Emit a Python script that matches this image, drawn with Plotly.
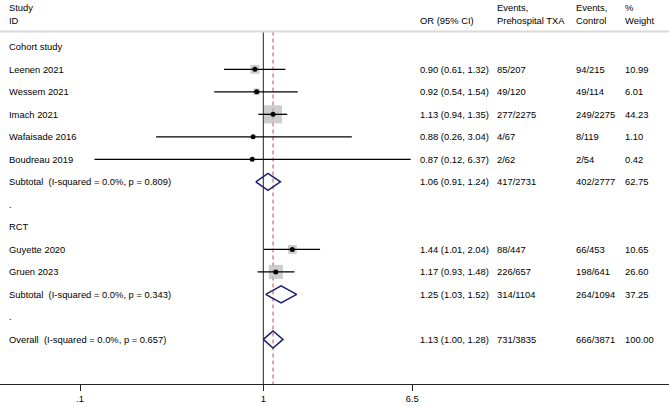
import math
import plotly.graph_objects as go

# ---------------- data ----------------
cohort_study = ["Leenen 2021", "Wessem 2021", "Imach 2021", "Wafaisade 2016", "Boudreau 2019"]
cohort_or = [0.90, 0.92, 1.13, 0.88, 0.87]
cohort_lo = [0.61, 0.54, 0.94, 0.26, 0.12]
cohort_hi = [1.32, 1.54, 1.35, 3.04, 6.37]
cohort_ev_txa = ["85/207", "49/120", "277/2275", "4/67", "2/62"]
cohort_ev_ctrl = ["94/215", "49/114", "249/2275", "8/119", "2/54"]
cohort_weight = [10.99, 6.01, 44.23, 1.10, 0.42]

rct_study = ["Guyette 2020", "Gruen 2023"]
rct_or = [1.44, 1.17]
rct_lo = [1.01, 0.93]
rct_hi = [2.04, 1.48]
rct_ev_txa = ["88/447", "226/657"]
rct_ev_ctrl = ["66/453", "198/641"]
rct_weight = [10.65, 26.60]

pooled_label = ["Subtotal  (I-squared = 0.0%, p = 0.809)",
                "Subtotal  (I-squared = 0.0%, p = 0.343)",
                "Overall  (I-squared = 0.0%, p = 0.657)"]
pooled_or = [1.06, 1.25, 1.13]
pooled_lo = [0.91, 1.03, 1.00]
pooled_hi = [1.24, 1.52, 1.28]
pooled_ev_txa = ["417/2731", "314/1104", "731/3835"]
pooled_ev_ctrl = ["402/2777", "264/1094", "666/3871"]
pooled_weight = ["62.75", "37.25", "100.00"]

group_titles = ["Cohort study", "RCT"]

tick_vals = [0.1, 1, 6.5]
tick_text = [".1", "1", "6.5"]

# ---------------- layout helpers ----------------
W, H = 669, 406
FONT = "Liberation Sans, Arial, sans-serif"
FS = 9.4
TXT = "#000000"

# row indices
cohort_rows = [1, 2, 3, 4, 5]
rct_rows = [9, 10]
pooled_rows = [6, 11, 13]
group_rows = [0, 8]
dot_rows = [7, 12]

x_lo_log, x_hi_log = -1.4365, 2.2133
y_top, y_bot = -2.08, 14.98
header_line_y = -0.68

fig = go.Figure()

all_rows = cohort_rows + rct_rows
all_or = cohort_or + rct_or
all_lo = cohort_lo + rct_lo
all_hi = cohort_hi + rct_hi
all_w = cohort_weight + rct_weight

# null line and overall dashed line
fig.add_trace(go.Scatter(x=[1, 1], y=[header_line_y, y_bot], mode="lines",
                         line=dict(color="#222222", width=1), hoverinfo="skip"))
fig.add_trace(go.Scatter(x=[pooled_or[2], pooled_or[2]], y=[header_line_y, y_bot], mode="lines",
                         line=dict(color="#c44a5a", width=1, dash="4px,3px"), hoverinfo="skip"))

# weight boxes
fig.add_trace(go.Scatter(x=all_or, y=all_rows, mode="markers",
                         marker=dict(symbol="square", color="#b8b8b8",
                                     size=[2.72 * math.sqrt(w) for w in all_w],
                                     line=dict(width=0)),
                         hoverinfo="skip"))

# CI lines
cx, cy = [], []
for r, lo, hi in zip(all_rows, all_lo, all_hi):
    cx += [lo, hi, None]
    cy += [r, r, None]
fig.add_trace(go.Scatter(x=cx, y=cy, mode="lines", line=dict(color="black", width=1.3),
                         hoverinfo="skip"))

# point estimates
fig.add_trace(go.Scatter(x=all_or, y=all_rows, mode="markers",
                         marker=dict(symbol="circle", color="black", size=5),
                         hoverinfo="skip"))

# diamonds
half_h = 0.38
for r, o, lo, hi in zip(pooled_rows, pooled_or, pooled_lo, pooled_hi):
    fig.add_trace(go.Scatter(x=[lo, o, hi, o, lo], y=[r, r - half_h, r, r + half_h, r],
                             mode="lines", line=dict(color="#1c1f6b", width=1.5),
                             hoverinfo="skip"))

# ---------------- text ----------------
def ann(px, y, text):
    fig.add_annotation(x=px / W, xref="paper", y=y, yref="y", text=text,
                       xanchor="left", yanchor="middle", showarrow=False,
                       font=dict(family=FONT, size=FS, color=TXT), borderpad=0)

col_label, col_or, col_txa, col_ctrl, col_w = 8, 419, 496, 575, 624

# header
ann(col_label, -1.76, "Study")
ann(col_label, -1.15, "ID")
ann(col_or, -1.15, "OR (95% CI)")
ann(col_txa, -1.76, "Events,")
ann(col_txa, -1.15, "Prehospital TXA")
ann(col_ctrl, -1.76, "Events,")
ann(col_ctrl, -1.15, "Control")
ann(col_w, -1.76, "%")
ann(col_w, -1.15, "Weight")

for r, t in zip(group_rows, group_titles):
    ann(col_label, r, t)
for r in dot_rows:
    ann(col_label, r, ".")

studies = cohort_study + rct_study
ev_t = cohort_ev_txa + rct_ev_txa
ev_c = cohort_ev_ctrl + rct_ev_ctrl
for r, s, o, lo, hi, et, ec, w in zip(all_rows, studies, all_or, all_lo, all_hi, ev_t, ev_c, all_w):
    ann(col_label, r, s)
    ann(col_or, r, f"{o:.2f} ({lo:.2f}, {hi:.2f})")
    ann(col_txa, r, et)
    ann(col_ctrl, r, ec)
    ann(col_w, r, f"{w:.2f}")

for r, s, o, lo, hi, et, ec, w in zip(pooled_rows, pooled_label, pooled_or, pooled_lo, pooled_hi,
                                      pooled_ev_txa, pooled_ev_ctrl, pooled_weight):
    ann(col_label, r, s)
    ann(col_or, r, f"{o:.2f} ({lo:.2f}, {hi:.2f})")
    ann(col_txa, r, et)
    ann(col_ctrl, r, ec)
    ann(col_w, r, w)

# header separator
fig.add_shape(type="line", xref="paper", yref="y", x0=0, x1=1, y0=header_line_y, y1=header_line_y,
              line=dict(color="#dadada", width=2))

fig.update_layout(
    width=W, height=H,
    margin=dict(l=0, r=0, t=0, b=22, pad=0),
    paper_bgcolor="white", plot_bgcolor="white",
    showlegend=False,
    xaxis=dict(type="log", range=[x_lo_log, x_hi_log], showgrid=False, zeroline=False,
               showline=True, linecolor="#222222", linewidth=1,
               ticks="outside", ticklen=6, tickcolor="#222222", tickwidth=1,
               tickvals=tick_vals, ticktext=tick_text,
               tickfont=dict(family=FONT, size=FS, color=TXT), fixedrange=True),
    yaxis=dict(range=[y_bot, y_top], showgrid=False, zeroline=False, showline=False,
               showticklabels=False, ticks="", fixedrange=True),
)

fig.write_html("out.html", config={"displayModeBar": False},
               post_script="document.body.style.margin='0';document.body.style.overflow='hidden';")
